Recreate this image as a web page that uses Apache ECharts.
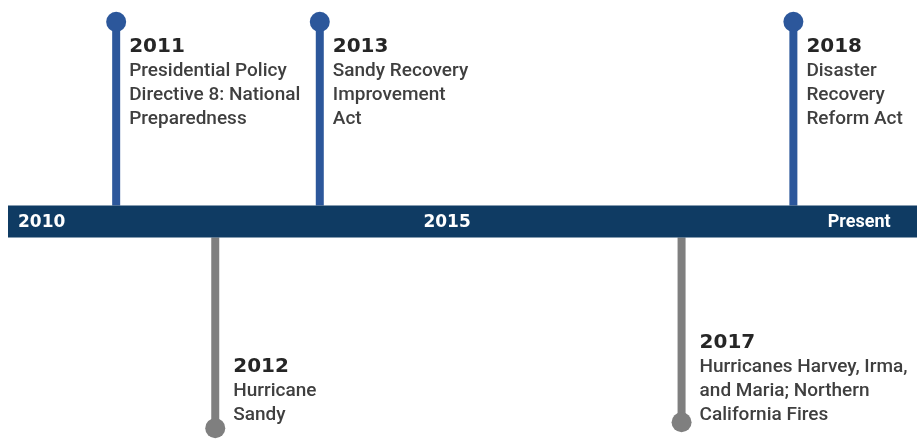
<!DOCTYPE html>
<html><head><meta charset="utf-8">
<script src="https://cdn.jsdelivr.net/npm/echarts@6/dist/echarts.min.js"></script>
<style>html,body{margin:0;padding:0;background:#fff}#c{width:917px;height:439px}</style>
</head><body><div id="c"></div>
<script>
// ---- data ----
const eventYears = ['2011', '2012', '2013', '2017', '2018'];
const eventLines = [
  ['Presidential Policy', 'Directive 8: National', 'Preparedness'],
  ['Hurricane', 'Sandy'],
  ['Sandy Recovery', 'Improvement', 'Act'],
  ['Hurricanes Harvey, Irma,', 'and Maria; Northern', 'California Fires'],
  ['Disaster', 'Recovery', 'Reform Act']
];
// position along the timeline bar (0 = left end, 100 = right end)
const eventPos = [11.9, 22.8, 34.3, 74.1, 86.4];
// stem reach (positive = above the bar, negative = below)
const eventReach = [9.18, -9.5, 9.18, -9.23, 9.18];
const eventKind = ['policy', 'disaster', 'policy', 'disaster', 'policy'];
const barLabels = ['2010', '2015', 'Present'];
const barLabelPos = [1.1, 48.3, 97.1];

const C = { bar: '#0f3b63', policy: '#2c579b', disaster: '#7f7f7f', year: '#262626', desc: '#3f3f3f' };
const FONT = 'Roboto, "DejaVu Sans Condensed", sans-serif';
const YFONT = '"DejaVu Sans", sans-serif';
const BAR_HALF = 0.73;
const BELOW_TEXT_BOTTOM = -9.45;

const chart = echarts.init(document.getElementById('c'), null, { renderer: 'canvas' });

const eventData = eventPos.map((p, i) => [p, eventReach[i], i]);

chart.setOption({
  animation: false,
  grid: { left: 8, right: 0, top: 4, height: 440 },
  xAxis: { type: 'value', min: 0, max: 100, show: false },
  yAxis: { type: 'value', min: -10, max: 10, show: false },
  series: [
    {
      type: 'custom',
      z: 1,
      data: eventData,
      renderItem: function (params, api) {
        const i = api.value(2);
        const reach = api.value(1);
        const top = reach > 0;
        const base = api.coord([api.value(0), top ? BAR_HALF : -BAR_HALF]);
        const end = api.coord([api.value(0), reach]);
        const tb = api.coord([api.value(0), BELOW_TEXT_BOTTOM]);
        const col = C[eventKind[i]];
        const txt = '{y|' + eventYears[i] + '}\n' + eventLines[i].map(s => '{d|' + s + '}').join('\n');
        return {
          type: 'group',
          children: [
            { type: 'line', shape: { x1: base[0], y1: base[1], x2: end[0], y2: end[1] },
              style: { stroke: col, lineWidth: 8 } },
            { type: 'circle', shape: { cx: end[0], cy: end[1], r: 10 }, style: { fill: col } },
            { type: 'text', x: end[0] + (top ? 13 : 18), y: top ? end[1] + 13 : tb[1],
              style: {
                text: txt,
                align: 'left',
                verticalAlign: top ? 'top' : 'bottom',
                rich: {
                  y: { fontFamily: YFONT, fontWeight: 'bold', fontSize: 20, fill: C.year, lineHeight: 24 },
                  d: { fontFamily: FONT, fontWeight: 500, fontSize: 19, fill: C.desc, lineHeight: 24 }
                }
              } }
          ]
        };
      }
    },
    {
      type: 'custom',
      z: 2,
      data: [[0, 100]],
      renderItem: function (params, api) {
        const a = api.coord([0, BAR_HALF]);
        const b = api.coord([100, -BAR_HALF]);
        const children = [
          { type: 'rect', shape: { x: a[0], y: a[1], width: b[0] - a[0], height: b[1] - a[1] }, style: { fill: C.bar } }
        ];
        barLabels.forEach((t, k) => {
          const p = api.coord([barLabelPos[k], 0]);
          children.push({ type: 'text', x: p[0], y: p[1] + 1,
            style: { text: t, fill: '#ffffff', align: k === 0 ? 'left' : (k === 2 ? 'right' : 'center'),
              verticalAlign: 'middle', fontSize: k === 2 ? 18 : 17, fontWeight: 'bold',
              fontFamily: k === 2 ? FONT : YFONT } });
        });
        return { type: 'group', children: children };
      }
    }
  ]
});
</script></body></html>
